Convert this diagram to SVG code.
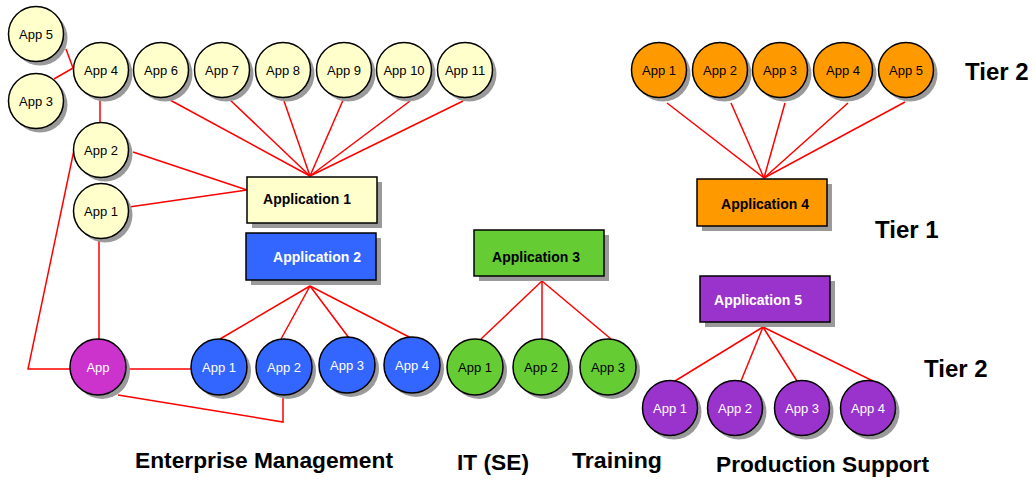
<svg xmlns="http://www.w3.org/2000/svg" width="1036" height="482" viewBox="0 0 1036 482">
<style>
text{font-family:"Liberation Sans",Arial,sans-serif;text-anchor:middle}
.c{font-size:13px}
.b{font-size:14px;font-weight:bold}
.h{font-size:24px;font-weight:bold;text-anchor:start}
.g{font-size:22.5px;font-weight:bold;text-anchor:start}
.sh{fill:#9a9a9a}
.n{stroke:#000;stroke-width:1.5}
.y{fill:#FFFFCC}.bl{fill:#3366FF}.m{fill:#CC33CC}.gr{fill:#66CC33}.o{fill:#FF9900}.p{fill:#9933CC}
.w{fill:#fff}.k{fill:#000}
#connectors line,#connectors polyline{stroke:#FF0000;stroke-width:1.5;fill:none}
</style>
<rect width="1036" height="482" fill="#fff"/>
<g id="connectors">
<line x1="66" y1="49" x2="73" y2="68"/>
<line x1="54" y1="79" x2="73" y2="68"/>
<line x1="100" y1="97" x2="100" y2="123"/>
<line x1="170" y1="100" x2="310" y2="176"/>
<line x1="228" y1="98" x2="310" y2="176"/>
<line x1="284" y1="101" x2="310" y2="176"/>
<line x1="344" y1="98" x2="310" y2="176"/>
<line x1="410" y1="101" x2="310" y2="176"/>
<line x1="463" y1="101" x2="310" y2="176"/>
<line x1="133" y1="152" x2="247" y2="190"/>
<line x1="129" y1="207" x2="247" y2="190"/>
<polyline points="74,150 28,369 70,369"/>
<line x1="99" y1="238" x2="99" y2="339"/>
<line x1="126" y1="369" x2="191" y2="369"/>
<polyline points="118,395 283,422 283,395"/>
<line x1="310" y1="286" x2="220" y2="339"/>
<line x1="310" y1="286" x2="281" y2="339"/>
<line x1="310" y1="286" x2="349" y2="338"/>
<line x1="310" y1="286" x2="411" y2="338"/>
<line x1="542" y1="281" x2="481" y2="339"/>
<line x1="542" y1="281" x2="542" y2="339"/>
<line x1="542" y1="281" x2="611" y2="339"/>
<line x1="764" y1="178" x2="667" y2="103"/>
<line x1="764" y1="178" x2="731" y2="103"/>
<line x1="764" y1="178" x2="785" y2="103"/>
<line x1="764" y1="178" x2="848" y2="103"/>
<line x1="764" y1="178" x2="905" y2="102"/>
<line x1="763" y1="327" x2="675" y2="381"/>
<line x1="763" y1="327" x2="741" y2="381"/>
<line x1="763" y1="327" x2="797" y2="381"/>
<line x1="763" y1="327" x2="873" y2="381"/>
</g>
<!-- Tier 2 yellow -->
<g id="y-app5"><circle class="sh" cx="40" cy="38" r="27.5"/><circle class="n y" cx="36" cy="34" r="27.5"/><text class="c" x="36" y="39">App 5</text></g>
<g id="y-app3"><circle class="sh" cx="40" cy="105" r="27.5"/><circle class="n y" cx="36" cy="101" r="27.5"/><text class="c" x="36" y="106">App 3</text></g>
<g id="y-app4"><circle class="sh" cx="105" cy="74" r="27.5"/><circle class="n y" cx="101" cy="70" r="27.5"/><text class="c" x="101" y="75">App 4</text></g>
<g id="y-app6"><circle class="sh" cx="165" cy="74" r="27.5"/><circle class="n y" cx="161" cy="70" r="27.5"/><text class="c" x="161" y="75">App 6</text></g>
<g id="y-app7"><circle class="sh" cx="226" cy="74" r="27.5"/><circle class="n y" cx="222" cy="70" r="27.5"/><text class="c" x="222" y="75">App 7</text></g>
<g id="y-app8"><circle class="sh" cx="287" cy="74" r="27.5"/><circle class="n y" cx="283" cy="70" r="27.5"/><text class="c" x="283" y="75">App 8</text></g>
<g id="y-app9"><circle class="sh" cx="348" cy="74" r="27.5"/><circle class="n y" cx="344" cy="70" r="27.5"/><text class="c" x="344" y="75">App 9</text></g>
<g id="y-app10"><circle class="sh" cx="408" cy="74" r="27.5"/><circle class="n y" cx="404" cy="70" r="27.5"/><text class="c" x="404" y="75">App 10</text></g>
<g id="y-app11"><circle class="sh" cx="469" cy="74" r="27.5"/><circle class="n y" cx="465" cy="70" r="27.5"/><text class="c" x="465" y="75">App 11</text></g>
<g id="y-app2"><circle class="sh" cx="105" cy="154" r="27.5"/><circle class="n y" cx="101" cy="150" r="27.5"/><text class="c" x="101" y="155">App 2</text></g>
<g id="y-app1"><circle class="sh" cx="105" cy="215" r="27.5"/><circle class="n y" cx="101" cy="211" r="27.5"/><text class="c" x="101" y="216">App 1</text></g>
<!-- Tier 1 boxes -->
<g id="application1"><rect class="sh" x="252" y="182" width="130" height="46"/><rect class="n y" x="247" y="177" width="130" height="46"/><text class="b k" x="307" y="204">Application 1</text></g>
<g id="application2"><rect class="sh" x="251" y="238" width="130" height="47"/><rect class="n bl" x="246" y="233" width="130" height="47"/><text class="b w" x="317" y="262">Application 2</text></g>
<g id="application3"><rect class="sh" x="479" y="235" width="130" height="46"/><rect class="n gr" x="474" y="230" width="130" height="46"/><text class="b k" x="536" y="262">Application 3</text></g>
<g id="application4"><rect class="sh" x="702" y="184" width="130" height="47"/><rect class="n o" x="697" y="179" width="130" height="47"/><text class="b k" x="765" y="209">Application 4</text></g>
<g id="application5"><rect class="sh" x="705" y="281" width="130" height="46"/><rect class="n p" x="700" y="276" width="130" height="46"/><text class="b w" x="758" y="305">Application 5</text></g>
<!-- Tier 2 bottom -->
<g id="m-app"><circle class="sh" cx="102" cy="371" r="28"/><circle class="n m" cx="98" cy="367" r="28"/><text class="c w" x="98" y="372">App</text></g>
<g id="b-app1"><circle class="sh" cx="223" cy="371" r="28"/><circle class="n bl" cx="219" cy="367" r="28"/><text class="c w" x="219" y="372">App 1</text></g>
<g id="b-app2"><circle class="sh" cx="288" cy="371" r="28"/><circle class="n bl" cx="284" cy="367" r="28"/><text class="c w" x="284" y="372">App 2</text></g>
<g id="b-app3"><circle class="sh" cx="351" cy="369" r="28"/><circle class="n bl" cx="347" cy="365" r="28"/><text class="c w" x="347" y="370">App 3</text></g>
<g id="b-app4"><circle class="sh" cx="416" cy="369" r="28"/><circle class="n bl" cx="412" cy="365" r="28"/><text class="c w" x="412" y="370">App 4</text></g>
<g id="g-app1"><circle class="sh" cx="479" cy="371" r="28"/><circle class="n gr" cx="475" cy="367" r="28"/><text class="c k" x="475" y="372">App 1</text></g>
<g id="g-app2"><circle class="sh" cx="545" cy="371" r="28"/><circle class="n gr" cx="541" cy="367" r="28"/><text class="c k" x="541" y="372">App 2</text></g>
<g id="g-app3"><circle class="sh" cx="612" cy="371" r="28"/><circle class="n gr" cx="608" cy="367" r="28"/><text class="c k" x="608" y="372">App 3</text></g>
<g id="p-app1"><circle class="sh" cx="674" cy="412" r="27.5"/><circle class="n p" cx="670" cy="408" r="27.5"/><text class="c w" x="670" y="413">App 1</text></g>
<g id="p-app2"><circle class="sh" cx="739" cy="412" r="27.5"/><circle class="n p" cx="735" cy="408" r="27.5"/><text class="c w" x="735" y="413">App 2</text></g>
<g id="p-app3"><circle class="sh" cx="806" cy="412" r="27.5"/><circle class="n p" cx="802" cy="408" r="27.5"/><text class="c w" x="802" y="413">App 3</text></g>
<g id="p-app4"><circle class="sh" cx="872" cy="412" r="27.5"/><circle class="n p" cx="868" cy="408" r="27.5"/><text class="c w" x="868" y="413">App 4</text></g>
<!-- orange top -->
<g id="o-app1"><ellipse class="sh" cx="663" cy="74" rx="27.5" ry="27.5"/><ellipse class="n o" cx="659" cy="70" rx="27.5" ry="27.5"/><text class="c k" x="659" y="75">App 1</text></g>
<g id="o-app2"><ellipse class="sh" cx="724" cy="74" rx="27.5" ry="27.5"/><ellipse class="n o" cx="720" cy="70" rx="27.5" ry="27.5"/><text class="c k" x="720" y="75">App 2</text></g>
<g id="o-app3"><ellipse class="sh" cx="784" cy="74" rx="27.5" ry="27.5"/><ellipse class="n o" cx="780" cy="70" rx="27.5" ry="27.5"/><text class="c k" x="780" y="75">App 3</text></g>
<g id="o-app4"><ellipse class="sh" cx="847" cy="74" rx="29.5" ry="27.5"/><ellipse class="n o" cx="843" cy="70" rx="29.5" ry="27.5"/><text class="c k" x="843" y="75">App 4</text></g>
<g id="o-app5"><ellipse class="sh" cx="910" cy="74" rx="27.5" ry="27.5"/><ellipse class="n o" cx="906" cy="70" rx="27.5" ry="27.5"/><text class="c k" x="906" y="75">App 5</text></g>
<!-- labels -->
<text class="h" x="965" y="80">Tier 2</text>
<text class="h" x="875" y="238">Tier 1</text>
<text class="h" x="924" y="377">Tier 2</text>
<text class="g" x="135" y="468" textLength="258" lengthAdjust="spacingAndGlyphs">Enterprise Management</text>
<text class="g" x="457" y="470" textLength="72" lengthAdjust="spacingAndGlyphs">IT (SE)</text>
<text class="g" x="572" y="468" textLength="90" lengthAdjust="spacingAndGlyphs">Training</text>
<text class="g" x="716" y="472" textLength="213" lengthAdjust="spacingAndGlyphs">Production Support</text>
</svg>
